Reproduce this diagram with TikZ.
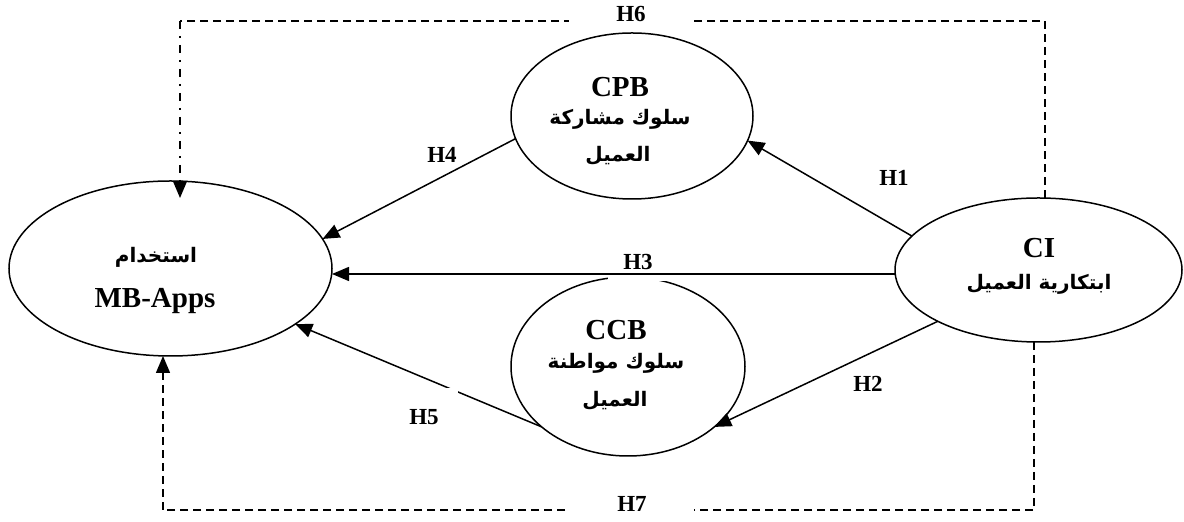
\documentclass[tikz,border=0pt]{standalone}
\usepackage{fontspec}
\setmainfont{Liberation Serif}
\newfontfamily\arabicfont[Script=Arabic]{DejaVu Sans}
\TeXXeTstate=1
\usetikzlibrary{shapes.geometric,arrows.meta}

\tikzset{
  construct/.style={draw, ellipse, line width=0.75pt, inner sep=0pt, outer sep=0pt},
  tip/.style={-{Triangle[length=8.5pt,width=7pt]}},
  link/.style={line width=0.75pt, tip},
  hlabel/.style={font=\bfseries\fontsize{11.5}{13}\selectfont, inner sep=0pt},
  latin/.style={font=\bfseries\fontsize{14.5}{16}\selectfont, anchor=base, inner sep=0pt},
  arab/.style={font=\arabicfont\bfseries\fontsize{10}{12}\selectfont, inner sep=0pt},
  dashline/.style={line width=0.75pt, dash pattern=on 4pt off 2.5pt},
  dotdash/.style={line width=0.75pt, dash pattern=on 4pt off 3.5pt on 1pt off 3.5pt},
}

\begin{document}
\begin{tikzpicture}[x=0.5pt,y=-0.5pt]
\useasboundingbox (0,0) rectangle (1184,522);

% constructs
\node[construct, minimum width=161.5pt, minimum height=87.5pt] (use) at (170.5,268.5) {};
\node[construct, minimum width=121pt,   minimum height=83pt]   (cpb) at (632,116) {};
\node[construct, minimum width=117pt,   minimum height=89.5pt] (ccb) at (628,366.5) {};
\node[construct, minimum width=143.5pt, minimum height=72pt]   (ci)  at (1038.5,270) {};

% construct names
\node[arab]  (useAr) at (156,257) {\beginR استخدام\endR};
\node[latin] (useEn) at (155,308) {MB-Apps};
\node[latin] (cpbEn) at (620,97) {CPB};
\node[arab]  (cpbAr1) at (620,119) {\beginR سلوك مشاركة\endR};
\node[arab]  (cpbAr2) at (618,156) {\beginR العميل\endR};
\node[latin] (ccbEn) at (616,340) {CCB};
\node[arab]  (ccbAr1) at (616,363) {\beginR سلوك مواطنة\endR};
\node[arab]  (ccbAr2) at (615,401) {\beginR العميل\endR};
\node[latin] (ciEn) at (1039,258) {CI};
\node[arab]  (ciAr) at (1039,284) {\beginR ابتكارية العميل\endR};

% direct paths
\draw[link] (ci.165.8) -- (cpb.-12.7);
\draw[link] (ci.207.3) -- (ccb.-35.9);
\node[hlabel, fill=white, minimum width=30pt, minimum height=19pt] (h3) at (638,262) {H3};
\draw[link] ([yshift=-2pt]ci.west) -- ([yshift=-2pt]ci.west -| use.east);
\draw[link] (cpb.191.8) -- (use.11.1);
\draw[link] (ccb.215.4) -- (use.-24.5);

% indirect paths
\coordinate (c6) at (180,21);
\coordinate (t6) at (180,198);
\draw[dashline] ([xshift=3.25pt]ci.north) |- (c6);
\draw[dotdash, tip] (c6) -- (t6);
\coordinate (c7) at (163,510);
\draw[dashline] ([xshift=-2.25pt]ci.south) |- (c7);
\draw[dashline, tip] (c7) -- ([xshift=-3.75pt]use.south);

% hypothesis labels
\node[hlabel] (h1) at (894,178) {H1};
\node[hlabel] (h2) at (868,384) {H2};
\node[hlabel] (h4) at (442,155) {H4};
\node[hlabel, fill=white, minimum width=34pt, minimum height=29pt] (h5) at (424,417) {H5};
\node[hlabel, fill=white, minimum width=62.5pt, minimum height=16pt] (h6) at (631,14) {H6};
\node[hlabel, fill=white, minimum width=62pt, minimum height=16pt] (h7) at (632,504) {H7};
\end{tikzpicture}
\end{document}
